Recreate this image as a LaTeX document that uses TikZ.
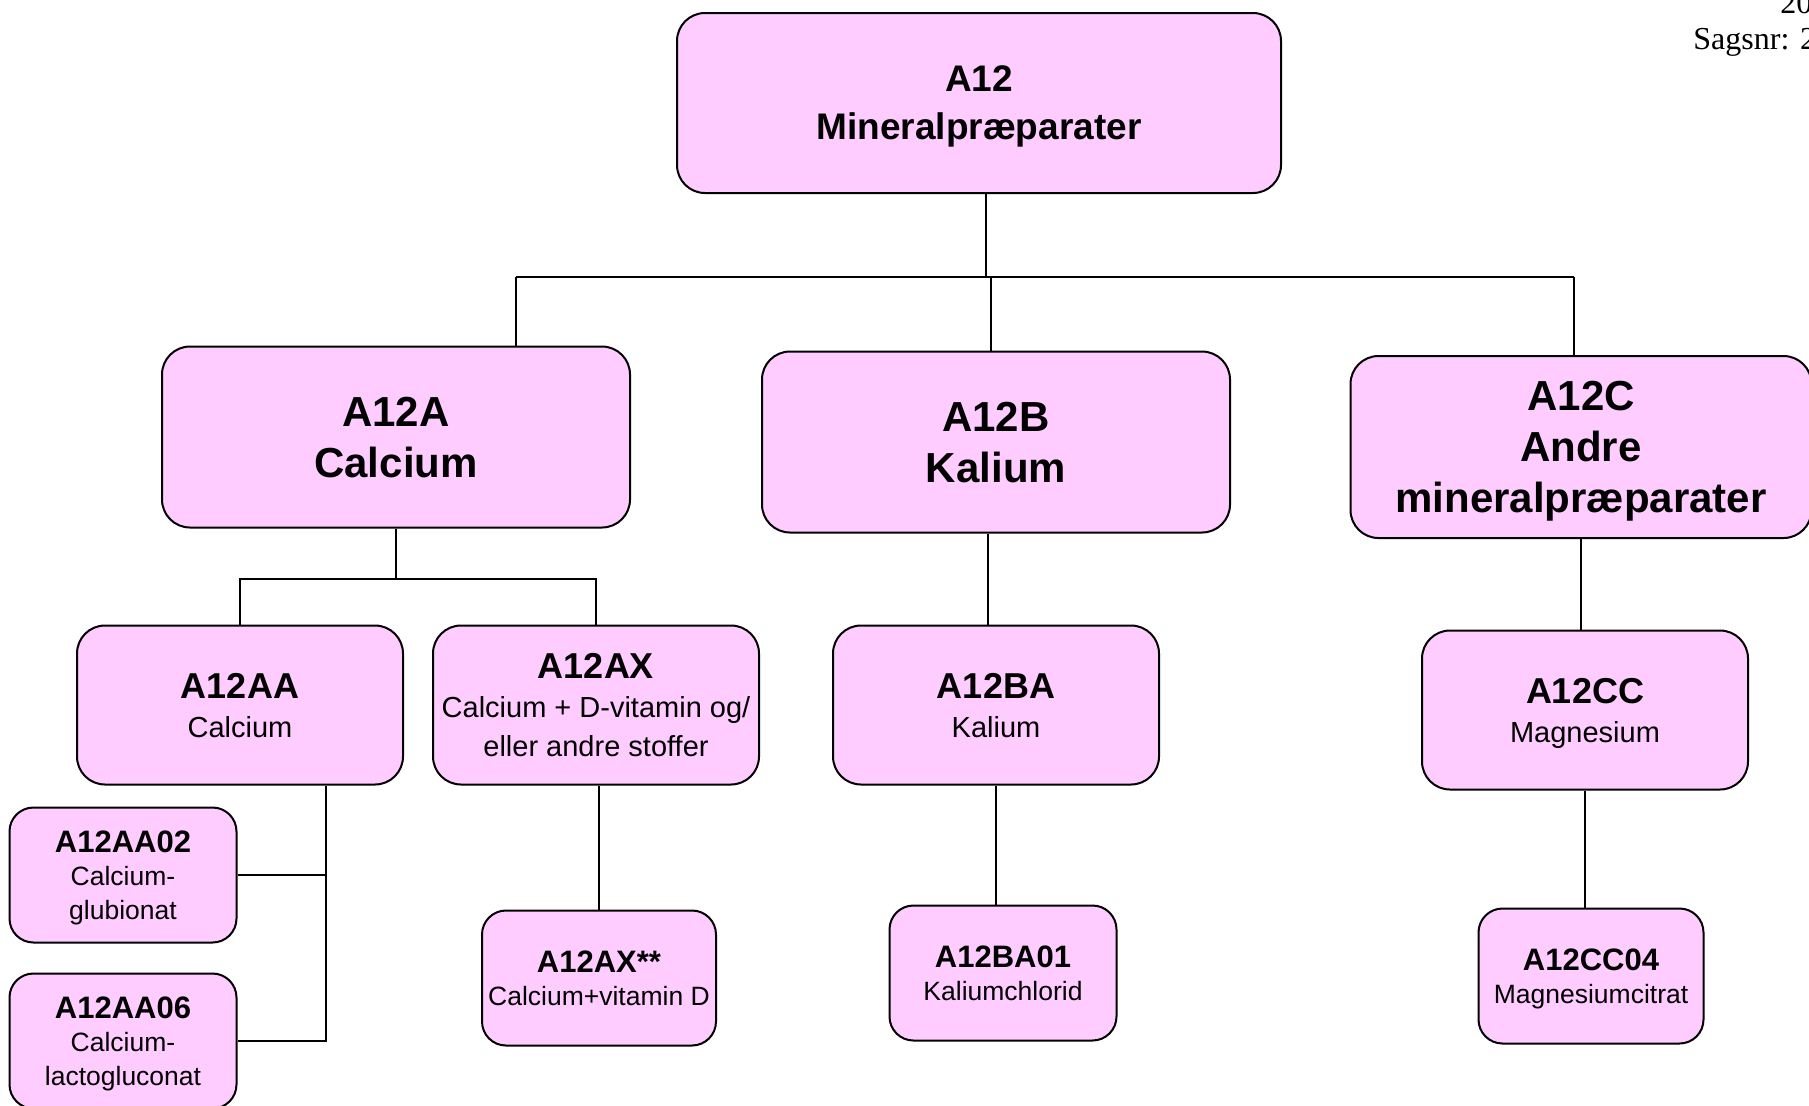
\documentclass[tikz,border=0pt]{standalone}
\usepackage{fontspec}
\setmainfont{Liberation Sans}
\newfontfamily\serifhead{Liberation Serif}
\usepackage{xcolor}
\usepackage{tikz}
\definecolor{atcpink}{RGB}{255,204,255}
\newcommand{\subcode}[1]{{\fontsize{18}{18}\selectfont\bfseries #1}}
\newcommand{\leafcode}[1]{{\fontsize{15.5}{15.5}\selectfont\bfseries #1}}

\begin{document}
\begin{tikzpicture}[x=0.5pt, y=-0.5pt]
\tikzstyle{atcbox} = [rectangle, draw, line width=1pt, fill=atcpink, rounded corners=14pt, align=center, inner sep=0pt, text depth=0pt]
\tikzstyle{atcmain} = [atcbox, minimum width=302pt, minimum height=90pt, font=\fontsize{18.5}{24}\selectfont\bfseries]
\tikzstyle{atcgroup} = [atcbox, minimum width=234pt, minimum height=90.5pt, font=\fontsize{21}{25.5}\selectfont\bfseries]
\tikzstyle{atcsub} = [atcbox, minimum width=163pt, minimum height=79.5pt, font=\fontsize{14.5}{19.5}\selectfont]
\tikzstyle{atcleaf} = [atcbox, rounded corners=12pt, minimum width=113.5pt, minimum height=67.5pt, font=\fontsize{13.25}{16.75}\selectfont]
\tikzstyle{link} = [line width=0.75pt]
\tikzstyle{header} = [anchor=base west, inner sep=0pt, font=\serifhead\fontsize{16}{16}\selectfont]

\clip (0,0) rectangle (1809,1105);

% header
\node (year) [header] at (1780,13) {20};
\node (sagsnr) [header] at (1693,49) {Sagsnr: 20};

% top and groups
\node (A12) [atcmain] at (979,103) {A12\\Mineralpræparater};
\node (A12A) [atcgroup] at (396,437) {A12A\\Calcium};
\node (A12B) [atcgroup] at (996,442) {A12B\\Kalium};
\node (A12C) [atcgroup, minimum width=230.5pt, minimum height=91pt] at (1581,447) {A12C\\Andre\\mineralpræparater};

% subgroups
\node (A12AA) [atcsub] at (240,705) {\subcode{A12AA}\\Calcium};
\node (A12AX) [atcsub] at (596,705) {\subcode{A12AX}\\Calcium + D-vitamin og/\\eller andre stoffer};
\node (A12BA) [atcsub] at (996,705) {\subcode{A12BA}\\Kalium};
\node (A12CC) [atcsub] at (1585,710) {\subcode{A12CC}\\Magnesium};

% substances
\node (A12AA02) [atcleaf] at (123,875) {\leafcode{A12AA02}\\Calcium-\\glubionat};
\node (A12AA06) [atcleaf] at (123,1041) {\leafcode{A12AA06}\\Calcium-\\lactogluconat};
\node (A12AXs) [atcleaf, minimum width=117pt] at (599,978) {\leafcode{A12AX**}\\Calcium+vitamin D};
\node (A12BA01) [atcleaf] at (1003,973) {\leafcode{A12BA01}\\Kaliumchlorid};
\node (A12CC04) [atcleaf, minimum width=112.5pt] at (1591,976) {\leafcode{A12CC04}\\Magnesiumcitrat};

% connectors
\coordinate (busL) at (516,277);
\coordinate (busR) at (1574,277);
\coordinate (jA) at (396,579);
\coordinate (jAA) at (326,0);

\draw [link] ([xshift=3.5pt]A12.south) -- ([xshift=3.5pt]A12.south |- busL);
\draw [link] (busL) -- (busR);
\draw [link] (busL) -- (busL |- A12A.north);
\draw [link] ([xshift=-2.5pt]A12B.north) -- ([xshift=-2.5pt]A12B.north |- busL);
\draw [link] (busR) -- (busR |- A12C.north);

\draw [link] (A12A.south) -- (jA);
\draw [link] (A12AA.north) |- (jA) -| (A12AX.north);
\draw [link] ([xshift=-4pt]A12B.south) -- ([xshift=-4pt]A12BA.north);
\draw [link] (A12C.south) -- (A12C.south |- A12CC.north);

\draw [link] (A12AA.south -| jAA) |- (A12AA06.east);
\draw [link] (A12AA02.east) -- (A12AA02.east -| jAA);
\draw [link] (A12AX.south -| A12AXs.north) -- (A12AXs.north);
\draw [link] (A12BA.south) -- (A12BA.south |- A12BA01.north);
\draw [link] (A12CC.south) -- (A12CC.south |- A12CC04.north);
\end{tikzpicture}
\end{document}
